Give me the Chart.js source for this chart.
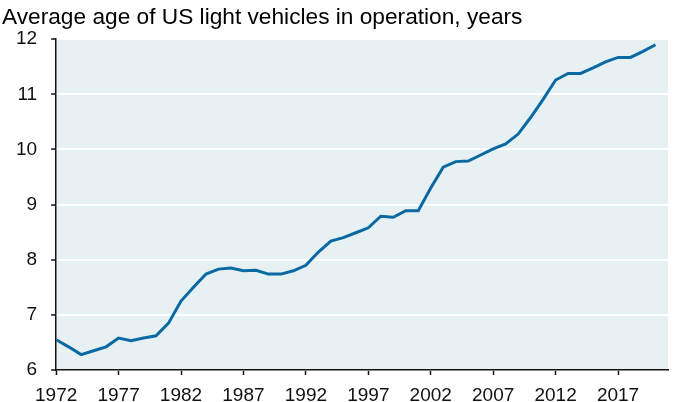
<!DOCTYPE html>
<html lang="en">
<head>
    <meta charset="UTF-8">
    <title>average age of US light vehicles</title>
    <script src="https://cdn.jsdelivr.net/npm/chart.js"></script>
    <style>
        html, body { margin: 0; padding: 0; background: #fff; }
        .wrap { width: 674px; height: 402px; }
    </style>
</head>
<body>
    <div class="wrap">
        <canvas id="ageChart" width="674" height="402"></canvas>
    </div>
    <script>
        // values, one per year
        const years = [1972, 1973, 1974, 1975, 1976, 1977, 1978, 1979, 1980, 1981,
            1982, 1983, 1984, 1985, 1986, 1987, 1988, 1989, 1990, 1991,
            1992, 1993, 1994, 1995, 1996, 1997, 1998, 1999, 2000, 2001,
            2002, 2003, 2004, 2005, 2006, 2007, 2008, 2009, 2010, 2011,
            2012, 2013, 2014, 2015, 2016, 2017, 2018, 2019, 2020];
        const avgAge = [6.55, 6.42, 6.28, 6.35, 6.42, 6.58, 6.53, 6.58, 6.62, 6.85,
            7.25, 7.5, 7.74, 7.83, 7.85, 7.8, 7.81, 7.74, 7.74, 7.8,
            7.9, 8.14, 8.34, 8.4, 8.49, 8.58, 8.79, 8.77, 8.89, 8.89,
            9.3, 9.68, 9.78, 9.79, 9.9, 10.01, 10.1, 10.28, 10.58, 10.91,
            11.26, 11.38, 11.38, 11.48, 11.59, 11.67, 11.67, 11.78, 11.9];
        const xTicks = [1972, 1977, 1982, 1987, 1992, 1997, 2002, 2007, 2012, 2017];

        const subtitle = 'Average age of US light vehicles in operation, years';

        // light blue fill behind the plot only
        const plotBackground = {
            id: 'plotBackground',
            beforeDraw(chart) {
                const { ctx, chartArea } = chart;
                ctx.save();
                ctx.fillStyle = '#e7f0f3';
                ctx.fillRect(chartArea.left, chartArea.top,
                    chartArea.right - chartArea.left, chartArea.bottom - chartArea.top);
                ctx.restore();
            }
        };

        const ctx = document.getElementById('ageChart').getContext('2d');
        const ageChart = new Chart(ctx, {
            type: 'line',
            data: {
                datasets: [{
                    label: 'Average age',
                    data: years.map((y, i) => ({ x: y, y: avgAge[i] })),
                    borderColor: '#0a69a3',
                    borderWidth: 3,
                    pointRadius: 0,
                    tension: 0,
                    fill: false
                }]
            },
            options: {
                responsive: false,
                animation: false,
                // negative bottom padding: the x labels sit tight against the canvas edge
                layout: { padding: { left: 2, right: 6, top: 0, bottom: -14 } },
                plugins: {
                    legend: { display: false },
                    tooltip: { enabled: false },
                    title: {
                        display: true,
                        text: subtitle,
                        align: 'start',
                        color: '#000',
                        font: { family: 'Liberation Sans, Arial, sans-serif', size: 22.7, weight: 'normal' },
                        padding: { top: 4, bottom: 8 }
                    }
                },
                scales: {
                    x: {
                        type: 'linear',
                        min: 1972,
                        max: 2021,
                        afterBuildTicks(scale) {
                            scale.ticks = xTicks.map(v => ({ value: v }));
                        },
                        grid: {
                            display: true,
                            drawOnChartArea: false,
                            drawTicks: true,
                            tickLength: 5,
                            tickColor: '#111',
                            tickWidth: 1.5
                        },
                        border: { display: true, color: '#111', width: 1.5 },
                        ticks: {
                            color: '#111',
                            padding: 11,
                            maxRotation: 0,
                            autoSkip: false,
                            font: { family: 'Liberation Sans, Arial, sans-serif', size: 19, lineHeight: 1 },
                            callback: v => String(v)
                        }
                    },
                    y: {
                        min: 6,
                        max: 12,
                        grid: {
                            color: '#ffffff',
                            lineWidth: 2,
                            tickLength: 5,
                            tickColor: '#111',
                            tickWidth: 1.5
                        },
                        border: { display: true, color: '#111', width: 1.5 },
                        ticks: {
                            stepSize: 1,
                            color: '#111',
                            padding: 14,
                            font: { family: 'Liberation Sans, Arial, sans-serif', size: 19 }
                        }
                    }
                }
            },
            plugins: [plotBackground]
        });
    </script>
</body>
</html>
